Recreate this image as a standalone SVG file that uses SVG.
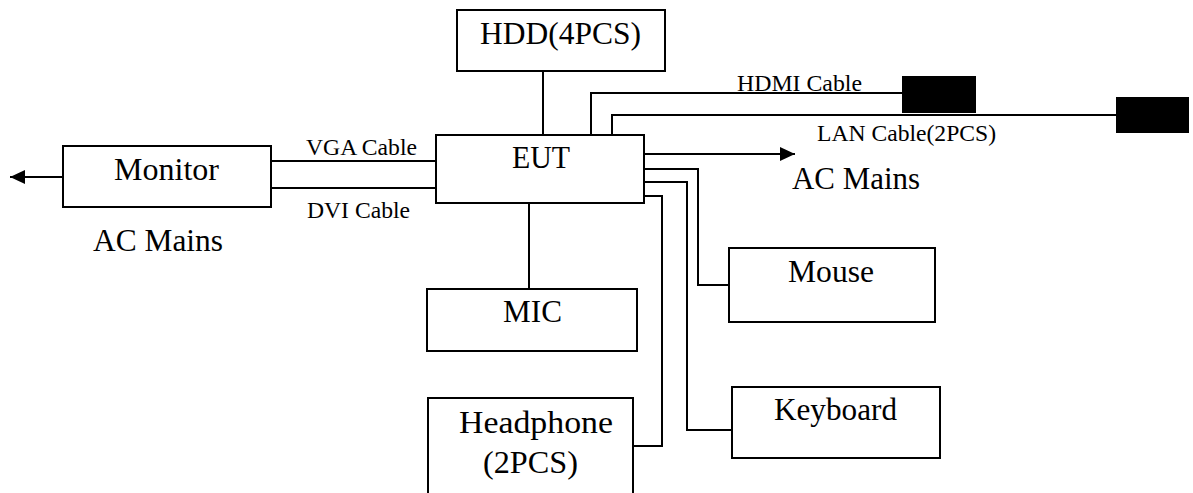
<svg xmlns="http://www.w3.org/2000/svg" width="1193" height="493" viewBox="0 0 1193 493">
  <style>
    .box { fill: #fff; stroke: #000; stroke-width: 2; }
    .wire { fill: none; stroke: #000; stroke-width: 2; }
    .plug { fill: #000; }
    .big { font-family: "Liberation Serif", "Times New Roman", serif; font-size: 31px; fill: #000; }
    .small { font-family: "Liberation Serif", "Times New Roman", serif; font-size: 23px; fill: #000; }
  </style>
  <defs>
    <marker id="arrow" viewBox="0 0 15 14" refX="15" refY="7" markerWidth="15" markerHeight="14" markerUnits="userSpaceOnUse" orient="auto">
      <path d="M0,0 L15,7 L0,14 Z" fill="#000"/>
    </marker>
  </defs>
  <rect width="1193" height="493" fill="#fff"/>

  <!-- cabling between the units -->
  <g id="connectors">
    <line class="wire" x1="543" y1="71" x2="543" y2="135"/>
    <polyline class="wire" points="591,135 591,93 902,93"/>
    <polyline class="wire" points="612,135 612,115 1116,115"/>
    <line class="wire" x1="271" y1="161" x2="436" y2="161"/>
    <line class="wire" x1="271" y1="188" x2="436" y2="188"/>
    <line class="wire" x1="63" y1="177" x2="10" y2="177" marker-end="url(#arrow)"/>
    <line class="wire" x1="645" y1="154" x2="795" y2="154" marker-end="url(#arrow)"/>
    <line class="wire" x1="529" y1="203" x2="529" y2="289"/>
    <polyline class="wire" points="644,169 698,169 698,285 729,285"/>
    <polyline class="wire" points="644,182 687,182 687,430 732,430"/>
    <polyline class="wire" points="644,196 662,196 662,446 633,446"/>
    <rect class="plug" x="902" y="76" width="74" height="37"/>
    <rect class="plug" x="1116" y="97" width="73" height="36"/>
    <text class="small" x="737" y="91" textLength="125" lengthAdjust="spacingAndGlyphs">HDMI Cable</text>
    <text class="small" x="817" y="141" textLength="179" lengthAdjust="spacingAndGlyphs">LAN Cable(2PCS)</text>
    <text class="small" x="306" y="155" textLength="111" lengthAdjust="spacingAndGlyphs">VGA Cable</text>
    <text class="small" x="307" y="218" textLength="103" lengthAdjust="spacingAndGlyphs">DVI Cable</text>
    <text class="big" x="792" y="189" textLength="128" lengthAdjust="spacingAndGlyphs">AC Mains</text>
    <text class="big" x="93" y="251" textLength="130" lengthAdjust="spacingAndGlyphs">AC Mains</text>
  </g>

  <g id="hdd">
    <rect class="box" x="457" y="10" width="208" height="61"/>
    <text class="big" x="480" y="44" textLength="161" lengthAdjust="spacingAndGlyphs">HDD(4PCS)</text>
  </g>

  <g id="eut">
    <rect class="box" x="436" y="135" width="208" height="68"/>
    <text class="big" x="512" y="168" textLength="58" lengthAdjust="spacingAndGlyphs">EUT</text>
  </g>

  <g id="monitor">
    <rect class="box" x="63" y="146" width="208" height="61"/>
    <text class="big" x="114" y="180" textLength="105" lengthAdjust="spacingAndGlyphs">Monitor</text>
  </g>

  <g id="mic">
    <rect class="box" x="427" y="289" width="210" height="62"/>
    <text class="big" x="503" y="322" textLength="59" lengthAdjust="spacingAndGlyphs">MIC</text>
  </g>

  <g id="headphone">
    <rect class="box" x="428" y="398" width="205" height="110"/>
    <text class="big" x="459" y="433" textLength="154" lengthAdjust="spacingAndGlyphs">Headphone</text>
    <text class="big" x="483" y="473" textLength="95" lengthAdjust="spacingAndGlyphs">(2PCS)</text>
  </g>

  <g id="mouse">
    <rect class="box" x="729" y="248" width="206" height="74"/>
    <text class="big" x="788" y="282" textLength="86" lengthAdjust="spacingAndGlyphs">Mouse</text>
  </g>

  <g id="keyboard">
    <rect class="box" x="732" y="387" width="208" height="71"/>
    <text class="big" x="774" y="420" textLength="123" lengthAdjust="spacingAndGlyphs">Keyboard</text>
  </g>
</svg>
